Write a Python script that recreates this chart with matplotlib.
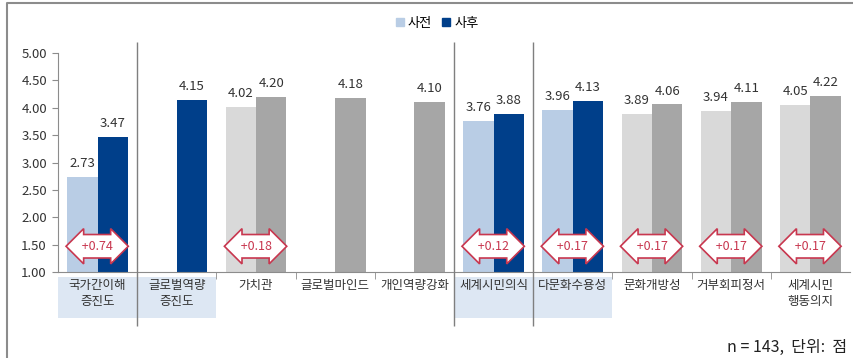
import matplotlib.pyplot as plt
from matplotlib.patches import Rectangle, Patch
from matplotlib.lines import Line2D

plt.rcParams['font.family'] = ['Noto Sans CJK KR', 'DejaVu Sans']

# categories and scores (pre / post); None = no pre-test bar
categories = ['국가간이해\n증진도', '글로벌역량\n증진도', '가치관', '글로벌마인드', '개인역량강화',
              '세계시민의식', '다문화수용성', '문화개방성', '거부회피정서', '세계시민\n행동의지']
pre = [2.73, None, 4.02, None, None, 3.76, 3.96, 3.89, 3.94, 4.05]
post = [3.47, 4.15, 4.20, 4.18, 4.10, 3.88, 4.13, 4.06, 4.11, 4.22]
highlight = [True, True, False, False, False, True, True, False, False, False]
separators = [0.5, 4.5, 5.5]
yticks = [1.0, 1.5, 2.0, 2.5, 3.0, 3.5, 4.0, 4.5, 5.0]

PRE_BLUE, POST_BLUE = '#b9cde5', '#003f8a'
PRE_GRAY, POST_GRAY = '#d9d9d9', '#a6a6a6'
RED = '#c8374f'
AXIS = '#8c8c8c'

fig = plt.figure(figsize=(8.54, 3.58), dpi=100)
ax = fig.add_axes([58 / 854, 1 - 272 / 358, 792 / 854, 219 / 358])

w = 0.385
for i in range(len(categories)):
    c_pre, c_post = (PRE_BLUE, POST_BLUE) if highlight[i] else (PRE_GRAY, POST_GRAY)
    if pre[i] is not None:
        ax.bar(i - w / 2, pre[i] - 1, w, bottom=1, color=c_pre, zorder=2)
        ax.annotate(f'{pre[i]:.2f}', (i - w / 2, pre[i]), xytext=(0, 5),
                    textcoords='offset points', ha='center', va='bottom',
                    fontsize=9.5, color='#333333')
    ax.bar(i + w / 2, post[i] - 1, w, bottom=1, color=c_post, zorder=2)
    ax.annotate(f'{post[i]:.2f}', (i + w / 2, post[i]), xytext=(0, 5),
                textcoords='offset points', ha='center', va='bottom',
                fontsize=9.5, color='#333333')
    if pre[i] is not None:
        ax.text(i, 1.47, f' +{post[i] - pre[i]:.2f} ', ha='center', va='center',
                fontsize=9, color=RED, zorder=4,
                bbox=dict(boxstyle='darrow,pad=0.42', fc='white', ec=RED, lw=1.2))
    if highlight[i]:
        ax.add_patch(Rectangle((i - 0.5, 0.16), 1, 0.75, color='#dde7f3',
                               clip_on=False, zorder=0, lw=0))

for s in separators:
    ax.vlines(s, 0.01, 5.2, color='#7f7f7f', lw=1, clip_on=False, zorder=3)

ax.set_xlim(-0.5, len(categories) - 0.5)
ax.set_ylim(1, 5)
ax.set_yticks(yticks)
ax.set_yticklabels([f'{v:.2f}' for v in yticks], fontsize=9.5, color='#333333')
ax.set_xticks(range(len(categories)))
ax.set_xticklabels(categories, fontsize=9, color='#333333', linespacing=1.35)
ax.set_xticks([i + 0.5 for i in range(len(categories) - 1)], minor=True)
ax.tick_params(axis='x', which='major', length=0, pad=5)
ax.tick_params(axis='x', which='minor', length=5, color=AXIS)
ax.tick_params(axis='y', length=4, color=AXIS, pad=4)

for side in ['top', 'right']:
    ax.spines[side].set_visible(False)
for side in ['left', 'bottom']:
    ax.spines[side].set_color(AXIS)

handles = [Patch(color=PRE_BLUE, label='사전'), Patch(color=POST_BLUE, label='사후')]
fig.legend(handles=handles, loc='center', bbox_to_anchor=(437 / 854, 1 - 23 / 358),
           ncol=2, frameon=False, fontsize=9.5, handlelength=0.6, handleheight=0.6,
           handletextpad=0.3, columnspacing=0.8)

# outer frame (top and left)
fig.add_artist(Line2D([7 / 854, 7 / 854, 1], [0, 1 - 3 / 358, 1 - 3 / 358],
                      transform=fig.transFigure, color='#8c8c8c', lw=1.5))

fig.text(847 / 854, 1 - 347 / 358, 'n = 143,  단위:  점', ha='right', va='center',
         fontsize=11.5, color='#222222')

fig.savefig('out.png', dpi=100)
